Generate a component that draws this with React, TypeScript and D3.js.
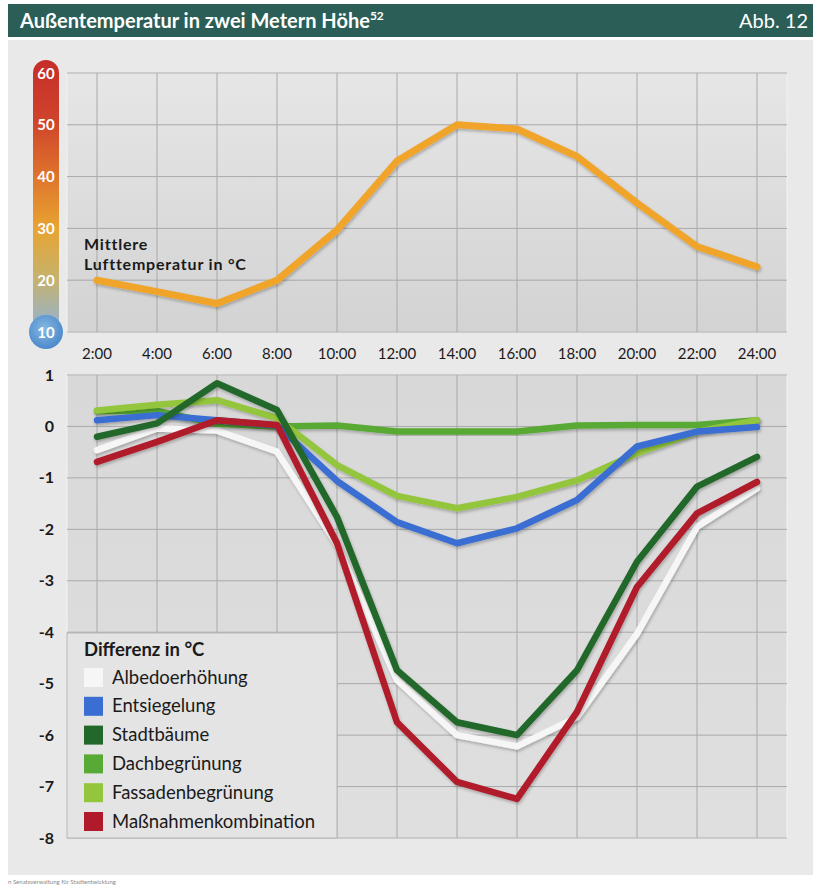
import React from "react";
import * as d3 from "d3";

const hours = [2, 4, 6, 8, 10, 12, 14, 16, 18, 20, 22, 24];
const hourLabels = ["2:00", "4:00", "6:00", "8:00", "10:00", "12:00", "14:00", "16:00", "18:00", "20:00", "22:00", "24:00"];
const tempTicks = [10, 20, 30, 40, 50, 60];
const diffTicks = [1, 0, -1, -2, -3, -4, -5, -6, -7, -8];

const airTemp = [20, 17.8, 15.5, 20, 29.7, 43, 50, 49.2, 43.9, 34.9, 26.5, 22.6];

const albedo = [-0.46, -0.04, -0.08, -0.49, -2.3, -4.93, -6.0, -6.22, -5.65, -4.03, -1.95, -1.2];
const entsiegelung = [0.12, 0.22, 0.12, 0.02, -1.06, -1.86, -2.27, -1.98, -1.43, -0.39, -0.1, -0.01];
const stadtbaeume = [-0.2, 0.06, 0.84, 0.32, -1.76, -4.74, -5.75, -6.0, -4.74, -2.63, -1.17, -0.59];
const dachbegruenung = [0.3, 0.3, 0.05, 0.0, 0.02, -0.1, -0.1, -0.1, 0.02, 0.03, 0.03, 0.12];
const fassadenbegruenung = [0.31, 0.42, 0.51, 0.16, -0.75, -1.35, -1.59, -1.37, -1.05, -0.52, -0.1, 0.12];
const kombination = [-0.69, -0.3, 0.12, 0.03, -2.27, -5.75, -6.91, -7.24, -5.55, -3.12, -1.69, -1.08];

const seriesNames = ["Albedoerhöhung", "Entsiegelung", "Stadtbäume", "Dachbegrünung", "Fassadenbegrünung", "Maßnahmenkombination"];
const seriesColors = ["#f6f6f6", "#3a6ed2", "#22682b", "#58aa36", "#93c63c", "#b11a2b"];
const seriesValues = [albedo, entsiegelung, stadtbaeume, dachbegruenung, fassadenbegruenung, kombination];
const drawOrder = [0, 3, 4, 1, 2, 5];

const FONT = "Lato, 'Open Sans', sans-serif";

export default function App() {
  const x = d3.scaleLinear().domain([1, 25]).range([67, 787]);
  const yTop = d3.scaleLinear().domain([10, 60]).range([332, 73]);
  const yBot = d3.scaleLinear().domain([-8, 1]).range([838, 375]);

  const topLine = d3
    .line<number>()
    .x((_, i) => x(hours[i]))
    .y((d) => yTop(d));
  const botLine = d3
    .line<number>()
    .x((_, i) => x(hours[i]))
    .y((d) => yBot(d));

  const [x0, x1] = x.range();
  const gridColor = "#a9a9a9";

  return (
    <svg
      width={813}
      height={885}
      style={{ position: "absolute", left: 0, top: 0, background: "#ffffff" }}
    >
      <defs>
        <linearGradient id="thermo" gradientUnits="userSpaceOnUse" x1="0" y1="60" x2="0" y2="332">
          <stop offset="0" stopColor="#c52d2a" />
          <stop offset="0.22" stopColor="#cf432b" />
          <stop offset="0.42" stopColor="#de722c" />
          <stop offset="0.62" stopColor="#e8a432" />
          <stop offset="0.8" stopColor="#c6b26c" />
          <stop offset="0.95" stopColor="#9fb2bd" />
        </linearGradient>
        <radialGradient id="bulb" cx="0.45" cy="0.4" r="0.6">
          <stop offset="0" stopColor="#86b8e2" />
          <stop offset="1" stopColor="#4d8acb" />
        </radialGradient>
        <linearGradient id="plotTop" x1="0" y1="0" x2="0" y2="1">
          <stop offset="0" stopColor="#e6e6e6" />
          <stop offset="1" stopColor="#d3d3d3" />
        </linearGradient>
        <linearGradient id="plotBot" x1="0" y1="0" x2="0" y2="1">
          <stop offset="0" stopColor="#d8d8d8" />
          <stop offset="1" stopColor="#dfdfdf" />
        </linearGradient>
        <filter id="shadow" x="-10%" y="-10%" width="120%" height="130%">
          <feDropShadow dx="1" dy="2" stdDeviation="1.5" floodColor="#000" floodOpacity="0.25" />
        </filter>
      </defs>

      {/* header */}
      <rect x={8} y={4} width={805} height={33} fill="#2a5e57" />
      <text x={20} y={28} fill="#ffffff" fontFamily="'Liberation Sans Narrow', Lato, sans-serif" fontWeight="bold" fontSize={20}>
        Außentemperatur in zwei Metern Höhe
        <tspan fontSize={12} dy={-8}>52</tspan>
      </text>
      <text x={808} y={28} fill="#ffffff" textAnchor="end" fontFamily="'Liberation Sans Narrow', Lato, sans-serif" fontSize={20}>
        Abb. 12
      </text>

      {/* panel */}
      <rect x={8} y={40} width={805} height={835} fill="#e9e9e9" />

      {/* top plot */}
      <rect x={x0} y={73} width={x1 - x0} height={332 - 73} fill="url(#plotTop)" stroke="#f3f3f3" strokeWidth={1} />
      {hours.map((h) => (
        <line key={"vt" + h} x1={x(h)} x2={x(h)} y1={73} y2={332} stroke={gridColor} strokeWidth={1} />
      ))}
      {tempTicks.map((t) => (
        <line key={"ht" + t} x1={x0} x2={x1} y1={yTop(t)} y2={yTop(t)} stroke={gridColor} strokeWidth={1} />
      ))}

      {/* thermometer */}
      <rect x={33} y={60} width={26} height={272} rx={13} fill="url(#thermo)" />
      <circle cx={46} cy={332} r={17} fill="url(#bulb)" />
      {tempTicks.map((t) => (
        <text key={"tt" + t} x={46} y={yTop(t) + 5.5} textAnchor="middle" fill="#ffffff" fontFamily={FONT} fontWeight="bold" fontSize={15}>
          {t}
        </text>
      ))}

      <path d={topLine(airTemp) || ""} fill="none" stroke="#f0a52c" strokeWidth={7} strokeLinejoin="round" strokeLinecap="round" filter="url(#shadow)" />

      <text x={84} y={250} fill="#1a1a1a" fontFamily={FONT} fontWeight="bold" fontSize={16} letterSpacing={0.8}>Mittlere</text>
      <text x={84} y={270} fill="#1a1a1a" fontFamily={FONT} fontWeight="bold" fontSize={16} letterSpacing={0.8}>Lufttemperatur in °C</text>

      {/* x labels */}
      {hours.map((h, i) => (
        <text key={"xl" + h} x={x(h)} y={359} textAnchor="middle" fill="#1a1a1a" fontFamily={FONT} fontSize={15}>
          {hourLabels[i]}
        </text>
      ))}

      {/* bottom plot */}
      <rect x={x0} y={375} width={x1 - x0} height={838 - 375} fill="url(#plotBot)" stroke="#f3f3f3" strokeWidth={1} />
      {hours.map((h) => (
        <line key={"vb" + h} x1={x(h)} x2={x(h)} y1={375} y2={838} stroke={gridColor} strokeWidth={1} />
      ))}
      {diffTicks.map((t) => (
        <line key={"hb" + t} x1={x0} x2={x1} y1={yBot(t)} y2={yBot(t)} stroke={gridColor} strokeWidth={1} />
      ))}
      {diffTicks.map((t) => (
        <text key={"yl" + t} x={54} y={yBot(t) + 5.5} textAnchor="end" fill="#1a1a1a" fontFamily={FONT} fontWeight="bold" fontSize={16}>
          {t}
        </text>
      ))}

      {drawOrder.map((si) => (
        <path
          key={"s" + si}
          d={botLine(seriesValues[si]) || ""}
          fill="none"
          stroke={seriesColors[si]}
          strokeWidth={6.5}
          strokeLinejoin="round"
          strokeLinecap="round"
          filter="url(#shadow)"
        />
      ))}

      {/* legend */}
      <rect x={67} y={633} width={270} height={205} fill="#e4e4e4" stroke="#b5b5b5" strokeWidth={1} />
      <text x={84} y={656} fill="#1a1a1a" fontFamily={FONT} fontWeight="bold" fontSize={18.5}>Differenz in °C</text>
      {seriesNames.map((n, i) => (
        <g key={"lg" + i} transform={`translate(84, ${677.5 + i * 28.8})`}>
          <rect x={0} y={-9.5} width={19} height={19} fill={seriesColors[i]} />
          <text x={28} y={6} fill="#1a1a1a" fontFamily={FONT} fontSize={18.5}>{n}</text>
        </g>
      ))}

      {/* footer */}
      <text x={8} y={884} fill="#8a8a8a" fontFamily={FONT} fontSize={6}>n Senatsverwaltung für Stadtentwicklung</text>
    </svg>
  );
}
